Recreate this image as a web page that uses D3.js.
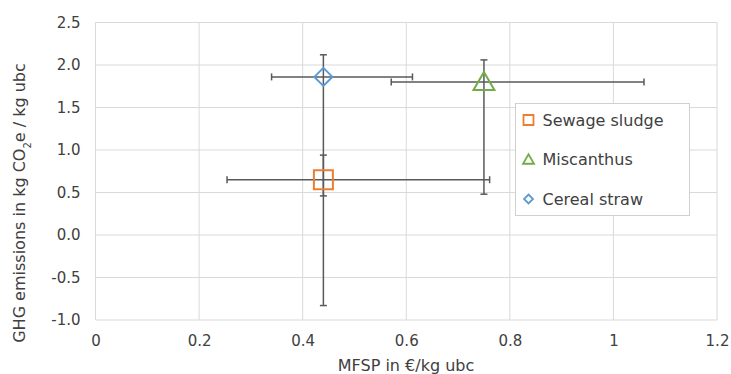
<!DOCTYPE html>
<html><head><meta charset="utf-8">
<script src="https://cdn.jsdelivr.net/npm/d3@7"></script>
<style>body{margin:0;background:#fff}svg{display:block}text{font-family:"DejaVu Sans",Verdana,sans-serif;fill:#404040}</style>
</head><body>
<script>
const seriesNames = ["Sewage sludge", "Miscanthus", "Cereal straw"];
const xValues = [0.44, 0.75, 0.44];
const yValues = [0.65, 1.80, 1.86];
const xErrLow = [0.254, 0.571, 0.34];
const xErrHigh = [0.761, 1.059, 0.612];
const yErrLow = [-0.83, 0.48, 0.46];
const yErrHigh = [0.94, 2.06, 2.12];
const colors = ["#ED7D31", "#70AD47", "#5B9BD5"];
const shapes = ["square", "triangle", "diamond"];
const xTicks = [0, 0.2, 0.4, 0.6, 0.8, 1, 1.2];
const yTicks = [-1.0, -0.5, 0.0, 0.5, 1.0, 1.5, 2.0, 2.5];

const W = 731, H = 374;
const m = {l: 95.5, r: 14, t: 22.5, b: 54};
const svg = d3.select("body").append("svg").attr("width", W).attr("height", H);
const x = d3.scaleLinear().domain([0, 1.2]).range([m.l, W - m.r]);
const y = d3.scaleLinear().domain([-1, 2.5]).range([H - m.b, m.t]);

// gridlines
const grid = svg.append("g");
grid.selectAll(".vx").data(xTicks).join("line")
  .attr("x1", d => x(d)).attr("x2", d => x(d)).attr("y1", y(-1)).attr("y2", y(2.5))
  .attr("stroke", "#d9d9d9").attr("stroke-width", 1);
grid.selectAll(".hy").data(yTicks).join("line")
  .attr("y1", d => y(d)).attr("y2", d => y(d)).attr("x1", x(0)).attr("x2", x(1.2))
  .attr("stroke", "#d9d9d9").attr("stroke-width", 1);

// axes (labels only)
const fmtY = d => d3.format(".1f")(d).replace("−", "-");
const xAxis = svg.append("g").attr("transform", `translate(0,${y(-1)})`)
  .call(d3.axisBottom(x).tickValues(xTicks).tickSize(0).tickPadding(15).tickFormat(d => String(d)));
const yAxis = svg.append("g").attr("transform", `translate(${x(0)},0)`)
  .call(d3.axisLeft(y).tickValues(yTicks).tickSize(0).tickPadding(15).tickFormat(fmtY));
[xAxis, yAxis].forEach(a => {
  a.select(".domain").remove();
  a.selectAll("text").style("font-family", '"DejaVu Sans",Verdana,sans-serif').style("font-size", "15px").attr("fill", "#404040");
});

// axis titles
svg.append("text").attr("x", 406).attr("y", 371)
  .attr("text-anchor", "middle").style("font-size", "16px").text("MFSP in €/kg ubc");
const yt = svg.append("text").attr("transform", `translate(25,203) rotate(-90)`)
  .attr("text-anchor", "middle").style("font-size", "16px");
yt.append("tspan").text("GHG emissions in kg CO");
yt.append("tspan").attr("baseline-shift", "sub").style("font-size", "10px").text("2");
yt.append("tspan").text("e / kg ubc");

// error bars
const eb = svg.append("g").attr("stroke", "#595959").attr("stroke-width", 1.5);
const cap = 3.5;
seriesNames.forEach((n, i) => {
  const cx = x(xValues[i]), cy = y(yValues[i]);
  eb.append("line").attr("x1", x(xErrLow[i])).attr("x2", x(xErrHigh[i])).attr("y1", cy).attr("y2", cy);
  eb.append("line").attr("x1", x(xErrLow[i])).attr("x2", x(xErrLow[i])).attr("y1", cy - cap).attr("y2", cy + cap);
  eb.append("line").attr("x1", x(xErrHigh[i])).attr("x2", x(xErrHigh[i])).attr("y1", cy - cap).attr("y2", cy + cap);
  eb.append("line").attr("x1", cx).attr("x2", cx).attr("y1", y(yErrLow[i])).attr("y2", y(yErrHigh[i]));
  eb.append("line").attr("x1", cx - cap).attr("x2", cx + cap).attr("y1", y(yErrLow[i])).attr("y2", y(yErrLow[i]));
  eb.append("line").attr("x1", cx - cap).attr("x2", cx + cap).attr("y1", y(yErrHigh[i])).attr("y2", y(yErrHigh[i]));
});

function shapePath(s, r) {
  if (s === "square") return `M${-r},${-r}H${r}V${r}H${-r}Z`;
  if (s === "triangle") return `M0,${-r * 1.05}L${r * 1.1},${r * 0.85}L${-r * 1.1},${r * 0.85}Z`;
  return `M0,${-r}L${r},0L0,${r}L${-r},0Z`;
}
const sizes = [9.5, 9.5, 9];
svg.append("g").selectAll("path").data(seriesNames).join("path")
  .attr("transform", (d, i) => `translate(${x(xValues[i])},${y(yValues[i])})`)
  .attr("d", (d, i) => shapePath(shapes[i], sizes[i]))
  .attr("fill", "none").attr("stroke", (d, i) => colors[i]).attr("stroke-width", 2);

// legend
const lg = svg.append("g");
lg.append("rect").attr("x", 515.5).attr("y", 103.5).attr("width", 174).attr("height", 112)
  .attr("fill", "#fff").attr("stroke", "#d0d0d0").attr("stroke-width", 1);
seriesNames.forEach((n, i) => {
  const ly = 120 + i * 39.5;
  lg.append("path").attr("transform", `translate(528.5,${ly})`).attr("d", shapePath(shapes[i], i === 2 ? 4.5 : 5))
    .attr("fill", "none").attr("stroke", colors[i]).attr("stroke-width", 1.8);
  lg.append("text").attr("x", 542.5).attr("y", ly + 5.5).style("font-size", "16px").text(n);
});
</script>
</body></html>
